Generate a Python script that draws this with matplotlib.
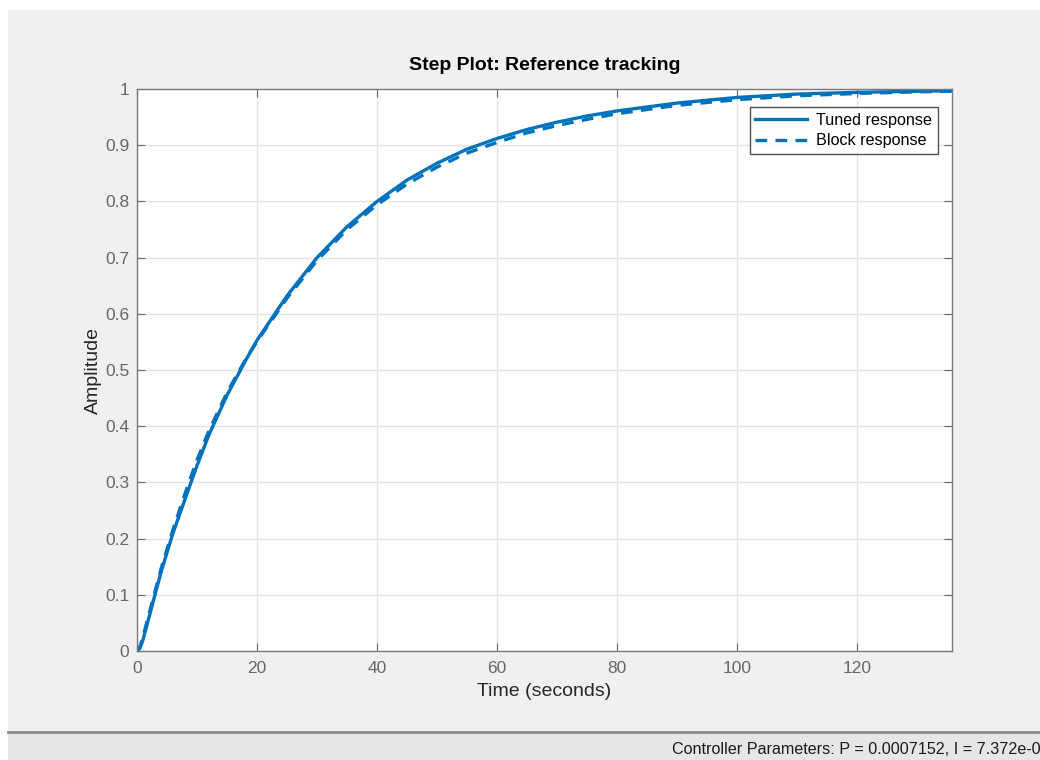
import matplotlib.pyplot as plt
from matplotlib.patches import Rectangle
from matplotlib.lines import Line2D

plt.rcParams['font.family'] = ['Liberation Sans', 'DejaVu Sans']

# Step response samples (time in seconds, amplitude)
t = [0, 0.5, 1, 2, 3, 4, 6, 8, 10, 12, 15, 18, 20, 25, 30, 35, 40, 45, 50, 55,
     60, 65, 70, 75, 80, 90, 100, 110, 120, 130, 136]
tuned = [0, 0.005, 0.02, 0.06, 0.10, 0.14, 0.21, 0.27, 0.33, 0.385, 0.455, 0.515,
         0.553, 0.632, 0.70, 0.755, 0.80, 0.838, 0.868, 0.893, 0.912, 0.928, 0.941,
         0.952, 0.961, 0.975, 0.985, 0.991, 0.994, 0.996, 0.997]
block = [0, 0.008, 0.025, 0.066, 0.106, 0.146, 0.216, 0.28, 0.34, 0.392, 0.46, 0.517,
         0.551, 0.628, 0.695, 0.75, 0.794, 0.831, 0.861, 0.886, 0.905, 0.922, 0.935,
         0.946, 0.956, 0.971, 0.981, 0.988, 0.992, 0.995, 0.996]

x_ticks = [0, 20, 40, 60, 80, 100, 120]
y_ticks = [0, 0.1, 0.2, 0.3, 0.4, 0.5, 0.6, 0.7, 0.8, 0.9, 1]
y_ticklabels = ["0", "0.1", "0.2", "0.3", "0.4", "0.5", "0.6", "0.7", "0.8", "0.9", "1"]

blue = '#0072BD'
tick_col = '#666666'

fig = plt.figure(figsize=(10.4, 7.6), dpi=100, facecolor='white')

# window background, status bar and its separator
fig.patches.append(Rectangle((8 / 1040, 28 / 760), 1 - 8 / 1040, 1 - 38 / 760,
                             transform=fig.transFigure, facecolor='#f0f0f0',
                             edgecolor='none', zorder=-10))
fig.patches.append(Rectangle((8 / 1040, 0), 1 - 8 / 1040, 27 / 760,
                             transform=fig.transFigure, facecolor='#e6e6e6',
                             edgecolor='none', zorder=-10))
fig.add_artist(Line2D([8 / 1040, 1], [28 / 760, 28 / 760], transform=fig.transFigure,
                      color='#8c8c8c', linewidth=2, zorder=-5))
fig.text(672 / 1040, 11 / 760, "Controller Parameters: P = 0.0007152, I = 7.372e-0",
         fontsize=11.6, color='#1a1a1a', va='center', ha='left')

ax = fig.add_axes([137 / 1040, 109 / 760, 815 / 1040, 562 / 760])
ax.set_facecolor('white')

ax.plot(t, tuned, color=blue, linewidth=2.4, label='Tuned response')
ax.plot(t, block, color=blue, linewidth=2.4, linestyle=(0, (3.5, 2.5)),
        label='Block response')

ax.set_xlim(0, 135.8)
ax.set_ylim(0, 1)
ax.set_xticks(x_ticks)
ax.set_yticks(y_ticks)
ax.set_yticklabels(y_ticklabels)
ax.tick_params(direction='in', length=6, width=0.8, colors=tick_col, labelsize=12.5,
               top=True, right=True)
ax.tick_params(axis='x', pad=7.5)
ax.tick_params(axis='y', pad=5.5)
ax.grid(True, color='#e3e3e3', linewidth=1)
ax.set_axisbelow(True)
for s in ax.spines.values():
    s.set_color('#7a7a7a')
    s.set_linewidth(1)

ax.set_title("Step Plot: Reference tracking", fontsize=14, fontweight='bold', pad=14)
ax.set_xlabel("Time (seconds)", fontsize=14, color='#262626', labelpad=5)
ax.set_ylabel("Amplitude", fontsize=14, color='#262626', labelpad=2)

leg = ax.legend(loc='upper right', bbox_to_anchor=(0.9828, 0.968), borderaxespad=0,
                fontsize=11.6, frameon=True, fancybox=False, handlelength=3.2,
                borderpad=0.35, labelspacing=0.35, handletextpad=0.6)
leg.get_frame().set_edgecolor('#262626')
leg.get_frame().set_linewidth(1)

fig.savefig('out.png', dpi=100, facecolor=fig.get_facecolor())
